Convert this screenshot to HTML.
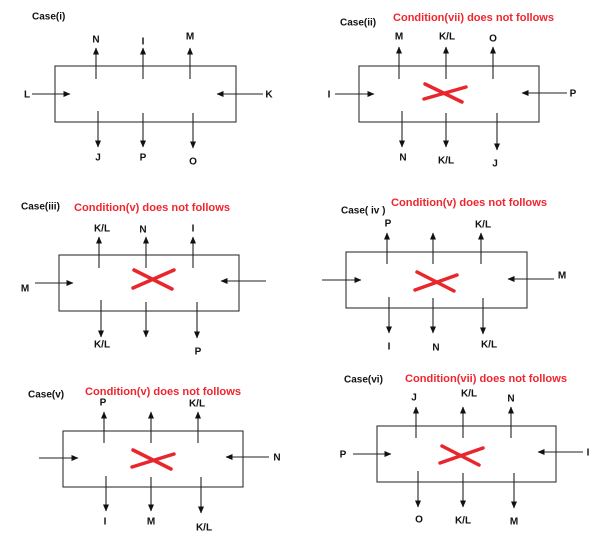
<!DOCTYPE html>
<html><head><meta charset="utf-8">
<style>
html,body{margin:0;padding:0;background:#fff;}
svg{display:block;}
text{font-family:"Liberation Sans",sans-serif;font-weight:bold;}
.l{font-size:10px;fill:#111;text-anchor:middle;}
.c{font-size:10px;fill:#111;}
.r{font-size:11px;fill:#f0262e;}
.ln{stroke:#222;stroke-width:1.1;fill:none;}
.bx{stroke:#333;stroke-width:1.1;fill:none;}
.x{stroke:#e8262c;stroke-width:3.5;stroke-linecap:round;}
</style></head><body>
<svg width="606" height="545" viewBox="0 0 606 545" xmlns="http://www.w3.org/2000/svg">
<defs>
<marker id="a" markerUnits="userSpaceOnUse" markerWidth="7" markerHeight="7" refX="6.5" refY="3" orient="auto">
<path d="M0,0 L7,3 L0,6 z" fill="#111"/>
</marker>
</defs>

<!-- Case(i) -->
<text class="c" x="32" y="19.5">Case(i)</text>
<rect class="bx" x="55" y="66" width="181" height="56"/>
<g class="ln" marker-end="url(#a)">
<line x1="96" y1="79" x2="96" y2="48"/>
<line x1="143" y1="79" x2="143" y2="48"/>
<line x1="190" y1="79" x2="190" y2="48"/>
<line x1="32" y1="94" x2="70" y2="94"/>
<line x1="263" y1="94" x2="217" y2="94"/>
<line x1="98" y1="111" x2="98" y2="147"/>
<line x1="143" y1="113" x2="143" y2="147"/>
<line x1="193" y1="113" x2="193" y2="148"/>
</g>
<text class="l" x="96" y="42.5">N</text>
<text class="l" x="143" y="44.5">I</text>
<text class="l" x="190" y="39.5">M</text>
<text class="l" x="27" y="97.5">L</text>
<text class="l" x="269" y="97.5">K</text>
<text class="l" x="98" y="160.5">J</text>
<text class="l" x="143" y="160.5">P</text>
<text class="l" x="193" y="164.5">O</text>

<!-- Case(ii) -->
<text class="c" x="340" y="25.5">Case(ii)</text>
<text class="r" x="393" y="21" textLength="161" lengthAdjust="spacingAndGlyphs">Condition(vii) does not follows</text>
<rect class="bx" x="359" y="66" width="180" height="56"/>
<g class="ln" marker-end="url(#a)">
<line x1="399" y1="79" x2="399" y2="47"/>
<line x1="446" y1="79" x2="446" y2="47"/>
<line x1="493" y1="79" x2="493" y2="47"/>
<line x1="335" y1="94" x2="374" y2="94"/>
<line x1="567" y1="93" x2="522" y2="93"/>
<line x1="402" y1="111" x2="402" y2="147"/>
<line x1="446" y1="113" x2="446" y2="147"/>
<line x1="497" y1="113" x2="497" y2="150"/>
</g>
<line class="x" x1="424" y1="99" x2="466" y2="87"/>
<line class="x" x1="425" y1="84" x2="462" y2="102"/>
<text class="l" x="399" y="39.5">M</text>
<text class="l" x="447" y="39.5">K/L</text>
<text class="l" x="493" y="41.5">O</text>
<text class="l" x="329" y="97.5">I</text>
<text class="l" x="573" y="96.5">P</text>
<text class="l" x="403" y="160.5">N</text>
<text class="l" x="446" y="163.5">K/L</text>
<text class="l" x="495" y="166.5">J</text>

<!-- Case(iii) -->
<text class="c" x="21" y="209.5">Case(iii)</text>
<text class="r" x="74" y="211" textLength="156" lengthAdjust="spacingAndGlyphs">Condition(v) does not follows</text>
<rect class="bx" x="59" y="255" width="180" height="56"/>
<g class="ln" marker-end="url(#a)">
<line x1="99" y1="268" x2="99" y2="237"/>
<line x1="146" y1="268" x2="146" y2="237"/>
<line x1="193" y1="268" x2="193" y2="237"/>
<line x1="35" y1="283" x2="73" y2="283"/>
<line x1="266" y1="281" x2="221" y2="281"/>
<line x1="101" y1="300" x2="101" y2="337"/>
<line x1="146" y1="302" x2="146" y2="337"/>
<line x1="197" y1="302" x2="197" y2="338"/>
</g>
<line class="x" x1="133" y1="288" x2="174" y2="270"/>
<line class="x" x1="134" y1="270" x2="172" y2="289"/>
<text class="l" x="102" y="231.5">K/L</text>
<text class="l" x="143" y="232.5">N</text>
<text class="l" x="193" y="231.5">I</text>
<text class="l" x="25" y="291.5">M</text>
<text class="l" x="102" y="347.5">K/L</text>
<text class="l" x="198" y="354.5">P</text>

<!-- Case(iv) -->
<text class="c" x="341" y="213.5">Case( iv )</text>
<text class="r" x="391" y="206" textLength="156" lengthAdjust="spacingAndGlyphs">Condition(v) does not follows</text>
<rect class="bx" x="346" y="252" width="181" height="56"/>
<g class="ln" marker-end="url(#a)">
<line x1="387" y1="264" x2="387" y2="233"/>
<line x1="433" y1="264" x2="433" y2="233"/>
<line x1="481" y1="264" x2="481" y2="233"/>
<line x1="322" y1="280" x2="361" y2="280"/>
<line x1="554" y1="279" x2="508" y2="279"/>
<line x1="389" y1="297" x2="389" y2="333"/>
<line x1="433" y1="298" x2="433" y2="333"/>
<line x1="483" y1="298" x2="483" y2="334"/>
</g>
<line class="x" x1="415" y1="290" x2="457" y2="275"/>
<line class="x" x1="417" y1="272" x2="454" y2="291"/>
<text class="l" x="388" y="226.5">P</text>
<text class="l" x="483" y="227.5">K/L</text>
<text class="l" x="562" y="278.5">M</text>
<text class="l" x="389" y="349.5">I</text>
<text class="l" x="436" y="350.5">N</text>
<text class="l" x="489" y="347.5">K/L</text>

<!-- Case(v) -->
<text class="c" x="28" y="397.5">Case(v)</text>
<text class="r" x="85" y="395" textLength="156" lengthAdjust="spacingAndGlyphs">Condition(v) does not follows</text>
<rect class="bx" x="63" y="431" width="180" height="56"/>
<g class="ln" marker-end="url(#a)">
<line x1="104" y1="443" x2="104" y2="412"/>
<line x1="151" y1="443" x2="151" y2="412"/>
<line x1="198" y1="443" x2="198" y2="412"/>
<line x1="39" y1="458" x2="78" y2="458"/>
<line x1="269" y1="457" x2="226" y2="457"/>
<line x1="106" y1="476" x2="106" y2="511"/>
<line x1="151" y1="477" x2="151" y2="511"/>
<line x1="201" y1="477" x2="201" y2="513"/>
</g>
<line class="x" x1="132" y1="467" x2="174" y2="454"/>
<line class="x" x1="133" y1="450" x2="171" y2="469"/>
<text class="l" x="103" y="405.5">P</text>
<text class="l" x="197" y="406.5">K/L</text>
<text class="l" x="277" y="460.5">N</text>
<text class="l" x="105" y="524.5">I</text>
<text class="l" x="151" y="524.5">M</text>
<text class="l" x="204" y="530.5">K/L</text>

<!-- Case(vi) -->
<text class="c" x="344" y="382.5">Case(vi)</text>
<text class="r" x="405" y="382" textLength="162" lengthAdjust="spacingAndGlyphs">Condition(vii) does not follows</text>
<rect class="bx" x="377" y="426" width="179" height="56"/>
<g class="ln" marker-end="url(#a)">
<line x1="416" y1="438" x2="416" y2="407"/>
<line x1="463" y1="438" x2="463" y2="407"/>
<line x1="511" y1="438" x2="511" y2="407"/>
<line x1="353" y1="454" x2="391" y2="454"/>
<line x1="583" y1="452" x2="538" y2="452"/>
<line x1="418" y1="471" x2="418" y2="507"/>
<line x1="463" y1="473" x2="463" y2="507"/>
<line x1="514" y1="473" x2="514" y2="508"/>
</g>
<line class="x" x1="440" y1="463" x2="483" y2="448"/>
<line class="x" x1="442" y1="446" x2="479" y2="465"/>
<text class="l" x="414" y="400.5">J</text>
<text class="l" x="469" y="396.5">K/L</text>
<text class="l" x="511" y="401.5">N</text>
<text class="l" x="343" y="457.5">P</text>
<text class="l" x="588" y="455.5">I</text>
<text class="l" x="419" y="522.5">O</text>
<text class="l" x="463" y="523.5">K/L</text>
<text class="l" x="514" y="524.5">M</text>
</svg>
</body></html>
